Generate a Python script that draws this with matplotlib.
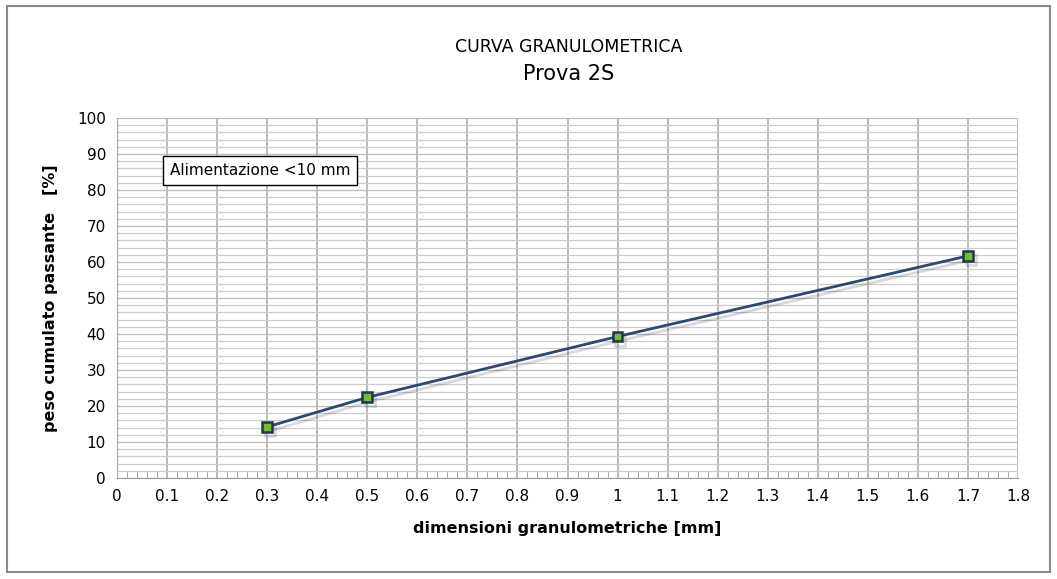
import matplotlib.pyplot as plt
import matplotlib.patheffects as pe
from matplotlib.patches import Rectangle
import numpy as np

# dati
dim_mm = [0.3, 0.5, 1.0, 1.7]
passante = [14.2, 22.4, 39.3, 61.7]
xticks = np.round(np.arange(0, 1.81, 0.1), 1)
xlabels = ['0', '0.1', '0.2', '0.3', '0.4', '0.5', '0.6', '0.7', '0.8', '0.9',
           '1', '1.1', '1.2', '1.3', '1.4', '1.5', '1.6', '1.7', '1.8']
yticks = list(range(0, 101, 10))

plt.rcParams['font.family'] = ['DejaVu Sans']

fg = plt.figure(figsize=(10.57, 5.79), dpi=100)
fg.patches.append(Rectangle((7/1057, 1-572/579), 1043/1057, 566/579,
                            transform=fg.transFigure, fill=False,
                            edgecolor='#8a8a8a', lw=1.5))
ax = fg.add_axes([117/1057, 1-478/579, 901/1057, 360/579])

ax.set_xlim(0, 1.8)
ax.set_ylim(0, 100)
ax.set_xticks(xticks)
ax.set_xticklabels(xlabels, fontsize=11)
ax.set_yticks(yticks)
ax.set_yticklabels([str(v) for v in yticks], fontsize=11)
ax.set_yticks(np.arange(0, 101, 2), minor=True)
ax.set_xticks(np.arange(0, 1.81, 0.02), minor=True)

ax.grid(which='major', axis='x', color='#a8a8a8', lw=1.1)
ax.grid(which='major', axis='y', color='#bcbcbc', lw=0.9)
ax.grid(which='minor', axis='y', color='#cdcdcd', lw=0.9)
ax.tick_params(axis='both', which='both', length=0, pad=8)
ax.tick_params(axis='x', which='minor', direction='in', length=5, color='#999999', bottom=True)
for s in ['top', 'right']:
    ax.spines[s].set_visible(False)
ax.spines['left'].set_color('#a8a8a8')
ax.spines['bottom'].set_color('#999999')
ax.set_axisbelow(True)

ax.plot(dim_mm, passante, color='#2c4a6e', lw=2, marker='s', ms=7,
        mfc='#6fbf2a', mec='#1f3550', mew=1.8, zorder=5,
        path_effects=[pe.SimpleLineShadow(offset=(2, -3), alpha=0.15, shadow_color='k'), pe.Normal()])

ax.text(0.105, 85.5, 'Alimentazione <10 mm', fontsize=11, va='center', ha='left',
        bbox=dict(boxstyle='square,pad=0.45', fc='white', ec='black', lw=1))

ax.set_xlabel('dimensioni granulometriche [mm]', fontsize=11.5, fontweight='bold', labelpad=12)
ax.set_ylabel('peso cumulato passante   [%]', fontsize=11.5, fontweight='bold', labelpad=14)

fg.text(569/1057, 1-47/579, 'CURVA GRANULOMETRICA', ha='center', va='center', fontsize=12.5)
fg.text(569/1057, 1-74/579, 'Prova 2S', ha='center', va='center', fontsize=15)

fg.savefig('out.png', dpi=100)
